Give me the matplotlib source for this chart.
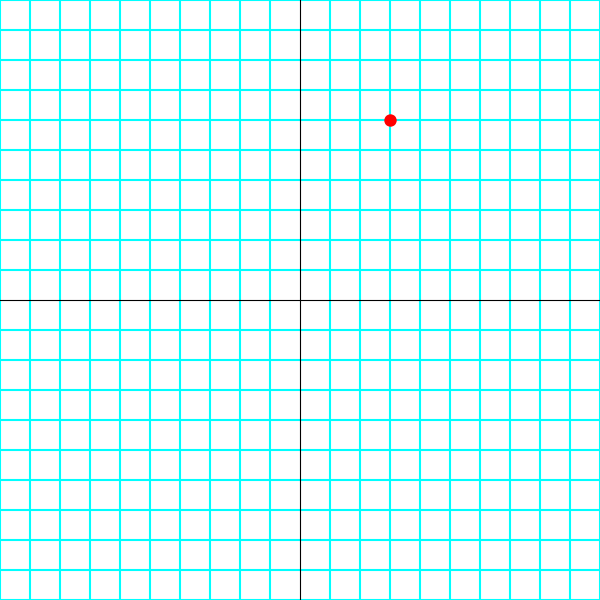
import numpy as np
import matplotlib
matplotlib.use("Agg")
import matplotlib.pyplot as plt

# grid range and the single plotted point
grid_min, grid_max = -10, 10
point_x = [3]
point_y = [6]

fig = plt.figure(figsize=(6, 6), dpi=100)
ax = fig.add_axes([0, 0, 1, 1])
ax.set_xlim(grid_min, grid_max)
ax.set_ylim(grid_min, grid_max)

for v in range(grid_min, grid_max + 1):
    if v == 0:
        continue
    ax.axvline(v, color="#00ffff", linewidth=1.5, zorder=1)
    ax.axhline(v, color="#00ffff", linewidth=1.5, zorder=1)

ax.axvline(0, color="black", linewidth=0.8, zorder=2)
ax.axhline(0, color="black", linewidth=0.8, zorder=2)

ax.scatter(point_x, point_y, s=80, color="red", zorder=3, linewidths=0)

ax.set_axis_off()
fig.savefig("out.png", dpi=100)
